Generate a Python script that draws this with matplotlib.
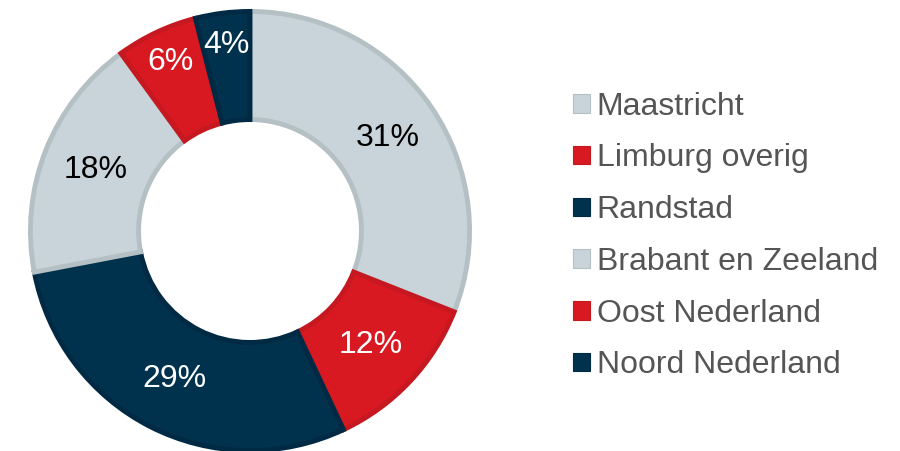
import numpy as np
import matplotlib.pyplot as plt
from matplotlib.patches import Patch

plt.rcParams['font.family'] = ['Liberation Sans', 'DejaVu Sans']

regions = ['Maastricht', 'Limburg overig', 'Randstad',
           'Brabant en Zeeland', 'Oost Nederland', 'Noord Nederland']
shares = [31, 12, 29, 18, 6, 4]

gray, red, navy = '#c8d4d9', '#d81921', '#00324e'
fills = [gray, red, navy, gray, red, navy]
edges = ['#b5c0c5', '#c51820', '#002a43', '#b5c0c5', '#c51820', '#002a43']
text_cols = ['black', 'white', 'white', 'black', 'white', 'white']

fig = plt.figure(figsize=(9, 4.51), dpi=100)
ax = fig.add_axes([0, 0, 1, 1])

cx, cy = 250, 451 - 231
r_out, r_in = 222, 109
lw = 3.5
pad = lw * 100 / 72 / 2

wedges, _ = ax.pie(shares, colors=fills, startangle=90, counterclock=False,
                   center=(cx, cy), radius=r_out - pad,
                   wedgeprops=dict(width=r_out - r_in - 2 * pad,
                                   linewidth=lw, joinstyle='miter'),
                   frame=True)
for w, ec in zip(wedges, edges):
    w.set_edgecolor(ec)
ax.set_xlim(0, 900)
ax.set_ylim(0, 451)
ax.set_axis_off()

# percentage labels
start = 90.0
for val, col in zip(shares, text_cols):
    mid = np.deg2rad(start - val * 3.6 / 2)
    start -= val * 3.6
    dist = 166 if val >= 10 else 187
    ax.text(cx + dist * np.cos(mid), cy + dist * np.sin(mid), f'{val}%',
            ha='center', va='center', fontsize=23, color=col)

handles = [Patch(facecolor=f, edgecolor=e, linewidth=0.8) for f, e in zip(fills, edges)]
fig.legend(handles, regions, loc='center left',
           bbox_to_anchor=(573 / 900, 1 - 236 / 451),
           frameon=False, fontsize=23, labelcolor='#555555',
           handlelength=0.52, handleheight=0.52, handletextpad=0.22,
           labelspacing=0.68, borderpad=0, borderaxespad=0)

fig.savefig('out.png', dpi=100)
